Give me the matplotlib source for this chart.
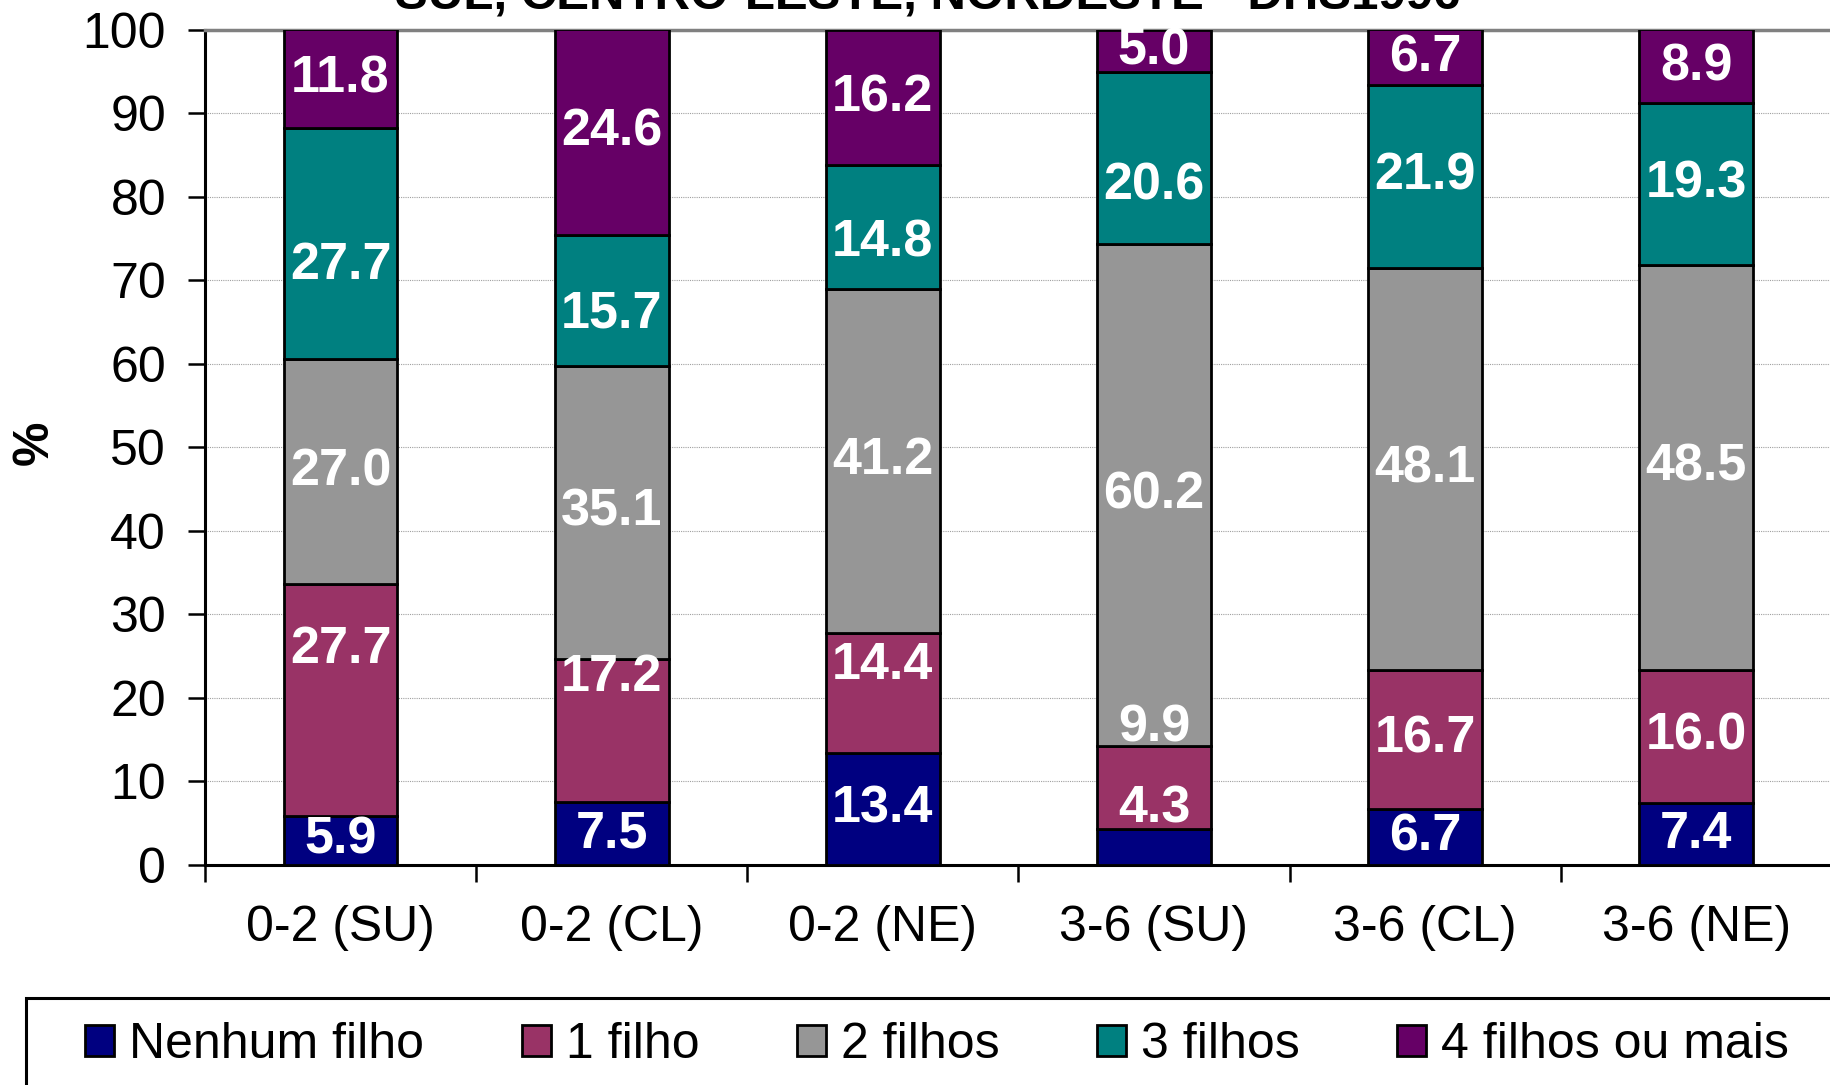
import matplotlib
matplotlib.use("Agg")
import matplotlib.pyplot as plt
import numpy as np
from matplotlib.patches import Rectangle

plt.rcParams['font.family'] = ['Liberation Sans', 'DejaVu Sans']

categories = ['0-2 (SU)', '0-2 (CL)', '0-2 (NE)', '3-6 (SU)', '3-6 (CL)', '3-6 (NE)']
series = ['Nenhum filho', '1 filho', '2 filhos', '3 filhos', '4 filhos ou mais']
nenhum = [5.9, 7.5, 13.4, 4.3, 6.7, 7.4]
um = [27.7, 17.2, 14.4, 9.9, 16.7, 16.0]
dois = [27.0, 35.1, 41.2, 60.2, 48.1, 48.5]
tres = [27.7, 15.7, 14.8, 20.6, 21.9, 19.3]
quatro = [11.8, 24.6, 16.2, 5.0, 6.7, 8.9]
colors = ['#000080', '#993366', '#969696', '#008080', '#660066']

# labels that were moved by hand in the original (data units, per category)
nudge = [
    [0, 6.0, 0, -2.6, 0],
    [0, 6.3, 0, -1.7, 0],
    [0, 3.3, 0, -1.9, 0],
    [4.6, 7.1, 0, -3.4, 0],
    [0, 0, 0, 0, 0],
    [0, 0, 0, 0, 0],
]

fig = plt.figure(figsize=(18.3, 10.85), dpi=100)
ax = fig.add_axes([0.112, 0.2028, 0.889, 0.7696])

x = np.arange(len(categories))
bottom = np.zeros(len(categories))
for j, vals in enumerate([nenhum, um, dois, tres, quatro]):
    vals = np.array(vals)
    ax.bar(x, vals, 0.42, bottom=bottom, color=colors[j], edgecolor='black',
           linewidth=2, label=series[j], zorder=3)
    for i in range(len(categories)):
        top = min(bottom[i] + vals[i], 100)
        yc = (bottom[i] + top) / 2 + nudge[i][j]
        ax.text(x[i], yc, f'{vals[i]:.1f}', ha='center', va='center',
                color='white', fontsize=37.5, fontweight='bold', zorder=4)
    bottom += vals

ax.set_ylim(0, 100)
ax.set_xlim(-0.5, 5.5)
ax.set_yticks(range(0, 101, 10))
ax.yaxis.grid(True, linestyle=(0, (1, 1)), color='#a0a0a0', linewidth=0.8, zorder=0)
ax.set_xticks(x)
ax.set_xticklabels(categories)
ax.set_xticks(np.arange(-0.5, 6.0, 1), minor=True)
ax.tick_params(axis='x', which='major', length=0, pad=29, labelsize=36)
ax.tick_params(axis='x', which='minor', length=12, width=1.8, direction='out')
ax.tick_params(axis='y', length=12, width=1.8, direction='out', pad=16, labelsize=36)
for s in ['left', 'bottom']:
    ax.spines[s].set_linewidth(2.2)
ax.spines['right'].set_visible(False)
ax.spines['top'].set_color('#808080')
ax.spines['top'].set_linewidth(2.5)

fig.text(35 / 1830, 0.592, '%', rotation=90, ha='center', va='center',
         fontsize=36, fontweight='bold')
fig.text(0.507, 0.9917, 'SUL, CENTRO-LESTE, NORDESTE - DHS1996', ha='center',
         va='baseline', fontsize=35.5, fontweight='bold')

fig.patches.append(Rectangle((0.0142, -0.2), 1.2, 0.28, transform=fig.transFigure,
                             fill=False, edgecolor='black', linewidth=2.2))
fig.legend(loc='center left', bbox_to_anchor=(85 / 1830, 0.0365), ncol=5,
           frameon=False, fontsize=36, borderpad=0, borderaxespad=0,
           handlelength=0.58, handleheight=0.58, handletextpad=0.3,
           columnspacing=1.95)

fig.savefig('out.png', dpi=100)
